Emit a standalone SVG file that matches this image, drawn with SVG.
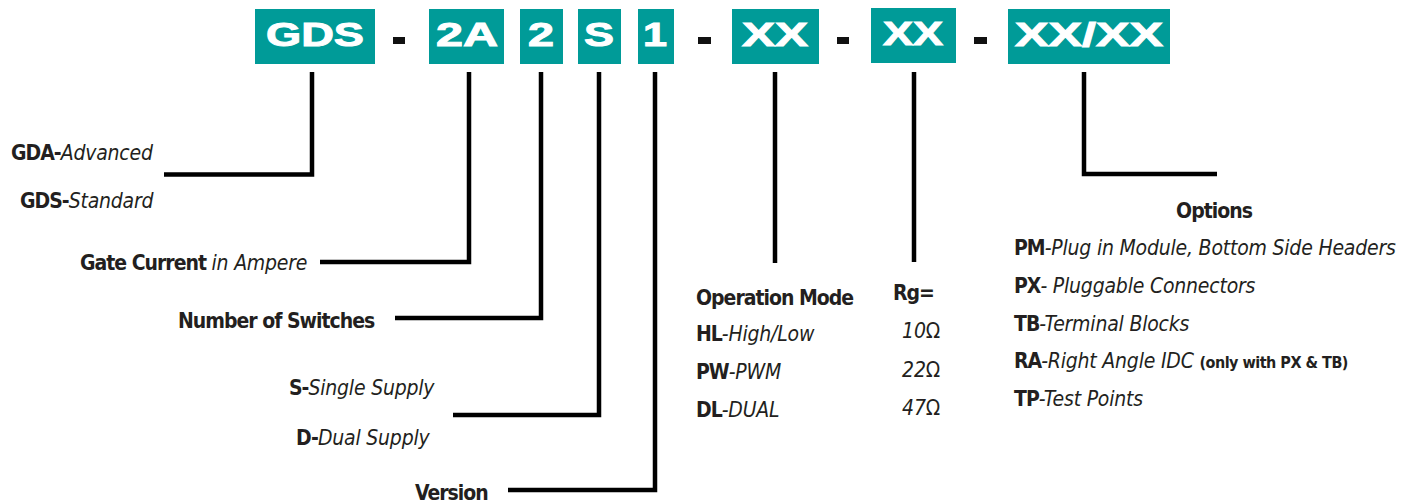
<svg xmlns="http://www.w3.org/2000/svg" width="1414" height="504" viewBox="0 0 1414 504">
<style>
.box{fill:#009b98}
.bt{font-family:"Liberation Sans",Arial,sans-serif;font-weight:bold;font-size:34px;fill:#fff;stroke:#fff;stroke-width:1;text-anchor:middle}
.dash{fill:#111}
.ln{fill:none;stroke:#000;stroke-width:4.5;stroke-linejoin:miter}
.lb{font-family:"DejaVu Sans Condensed","DejaVu Sans",sans-serif;font-stretch:condensed;font-size:21px;fill:#231f20}
.b{font-weight:bold;letter-spacing:-1px}
.i{font-style:italic;font-weight:normal;letter-spacing:-0.2px}
.u{font-style:normal}
.sm{font-size:16px;font-weight:bold;letter-spacing:-0.5px}
</style>
<rect width="1414" height="504" fill="#fff"/>
<g id="code">
<g id="n-gds"><rect class="box" x="255" y="9" width="120" height="55"/><text class="bt" x="315" y="46" textLength="98" lengthAdjust="spacingAndGlyphs">GDS</text></g>
<rect class="dash" x="393" y="37" width="12" height="7"/>
<g id="n-2a"><rect class="box" x="429" y="9" width="75" height="55"/><text class="bt" x="467" y="46" textLength="62" lengthAdjust="spacingAndGlyphs">2A</text></g>
<g id="n-2"><rect class="box" x="520" y="9" width="43" height="55"/><text class="bt" x="541" y="46" textLength="26" lengthAdjust="spacingAndGlyphs">2</text></g>
<g id="n-s"><rect class="box" x="578" y="9" width="43" height="55"/><text class="bt" x="599" y="46" textLength="30" lengthAdjust="spacingAndGlyphs">S</text></g>
<g id="n-1"><rect class="box" x="638" y="9" width="36" height="55"/><text class="bt" x="655" y="46" textLength="24" lengthAdjust="spacingAndGlyphs">1</text></g>
<rect class="dash" x="698" y="37" width="13" height="7"/>
<g id="n-xx1"><rect class="box" x="732" y="9" width="87" height="55"/><text class="bt" x="775" y="46" textLength="66" lengthAdjust="spacingAndGlyphs">XX</text></g>
<rect class="dash" x="837" y="37" width="12" height="7"/>
<g id="n-xx2"><rect class="box" x="871" y="8" width="85" height="55"/><text class="bt" x="913" y="45" textLength="60" lengthAdjust="spacingAndGlyphs">XX</text></g>
<rect class="dash" x="974" y="37" width="13" height="7"/>
<g id="n-xx3"><rect class="box" x="1008" y="9" width="162" height="55"/><text class="bt" x="1089" y="46" textLength="148" lengthAdjust="spacingAndGlyphs">XX/XX</text></g>
</g>
<g id="connectors">
<path class="ln" d="M312 72 V174.5 H164"/>
<path class="ln" d="M469 72 V262 H320"/>
<path class="ln" d="M541 72 V318 H395"/>
<path class="ln" d="M599 72 V415 H453"/>
<path class="ln" d="M655 72 V490 H508"/>
<path class="ln" d="M775 72 V263"/>
<path class="ln" d="M914 72 V262"/>
<path class="ln" d="M1084 72 V174 H1217"/>
</g>
<g id="family">
<text class="lb" x="11" y="160"><tspan class="b">GDA-</tspan><tspan class="i">Advanced</tspan></text>
<text class="lb" x="20" y="208"><tspan class="b">GDS-</tspan><tspan class="i">Standard</tspan></text>
</g>
<g id="current"><text class="lb" x="80" y="270"><tspan class="b">Gate Current </tspan><tspan class="i">in Ampere</tspan></text></g>
<g id="switches"><text class="lb b" x="178" y="328">Number of Switches</text></g>
<g id="supply">
<text class="lb" x="289" y="395"><tspan class="b">S-</tspan><tspan class="i">Single Supply</tspan></text>
<text class="lb" x="296" y="445"><tspan class="b">D-</tspan><tspan class="i">Dual Supply</tspan></text>
</g>
<g id="version"><text class="lb b" x="415" y="500">Version</text></g>
<g id="mode">
<text class="lb b" x="696" y="305">Operation Mode</text>
<text class="lb" x="696" y="341"><tspan class="b">HL</tspan><tspan class="i">-High/Low</tspan></text>
<text class="lb" x="696" y="379"><tspan class="b">PW</tspan><tspan class="i">-PWM</tspan></text>
<text class="lb" x="696" y="417"><tspan class="b">DL</tspan><tspan class="i">-DUAL</tspan></text>
</g>
<g id="rg">
<text class="lb b" x="893" y="300">Rg=</text>
<text class="lb i" x="940" y="338" text-anchor="end">10<tspan class="u">Ω</tspan></text>
<text class="lb i" x="940" y="377" text-anchor="end">22<tspan class="u">Ω</tspan></text>
<text class="lb i" x="940" y="415" text-anchor="end">47<tspan class="u">Ω</tspan></text>
</g>
<g id="options">
<text class="lb b" x="1214" y="218" text-anchor="middle">Options</text>
<text class="lb" x="1014" y="255"><tspan class="b">PM</tspan><tspan class="i">-Plug in Module, Bottom Side Headers</tspan></text>
<text class="lb" x="1014" y="293"><tspan class="b">PX</tspan><tspan class="i">- Pluggable Connectors</tspan></text>
<text class="lb" x="1014" y="331"><tspan class="b">TB</tspan><tspan class="i">-Terminal Blocks</tspan></text>
<text class="lb" x="1014" y="368"><tspan class="b">RA</tspan><tspan class="i">-Right Angle IDC </tspan><tspan class="sm">(only with PX &amp; TB)</tspan></text>
<text class="lb" x="1014" y="406"><tspan class="b">TP</tspan><tspan class="i">-Test Points</tspan></text>
</g>
</svg>
